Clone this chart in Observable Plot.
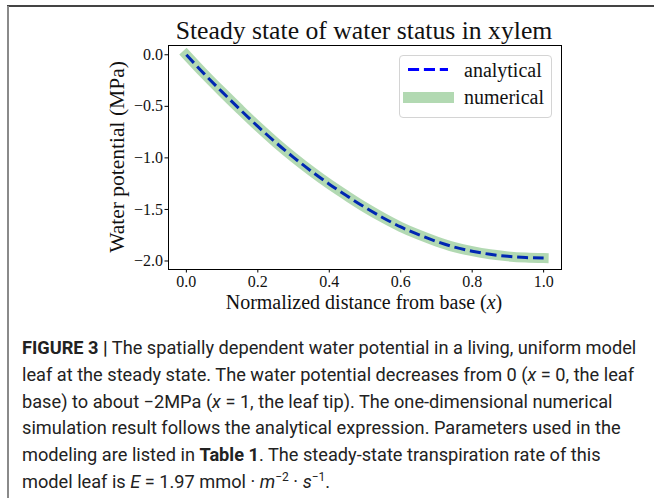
<!DOCTYPE html>
<html>
<head>
<meta charset="utf-8">
<script src="https://cdn.jsdelivr.net/npm/d3@7"></script>
<script src="https://cdn.jsdelivr.net/npm/@observablehq/plot@0.6"></script>
<style>
  html, body { margin: 0; padding: 0; background: #fff; }
  #wrap { position: relative; width: 654px; height: 498px; overflow: hidden; }
  #frameL { position: absolute; left: 7px; top: 6px; width: 2px; height: 492px; background: #8a8a8a; }
  #frameT { position: absolute; left: 7px; top: 5px; width: 647px; height: 2px; background: #444; }
  #chart { position: absolute; left: 0; top: 0; }
  #chart svg text { font-size: 16px !important; font-family: "Liberation Serif", serif !important; fill: #111; }
  .serif { font-family: "Liberation Serif", serif; color: #111; }
  #title { position: absolute; left: 114px; width: 500px; top: 16px; text-align: center; font-size: 25.7px; white-space: nowrap; }
  #xlabel { position: absolute; left: 114px; width: 500px; top: 291px; text-align: center; font-size: 20px; white-space: nowrap; }
  #ylabel { position: absolute; left: 117px; top: 157px; font-size: 21.5px; white-space: nowrap; transform: translate(-50%, -50%) rotate(-90deg); }
  #legend { position: absolute; left: 399px; top: 55px; width: 151px; height: 61px; border: 1px solid #d4d4d4; border-radius: 4px; background: rgba(255,255,255,0.8); }
  #legend svg { position: absolute; left: 0; top: 0; }
  .lt { position: absolute; left: 64px; font-size: 20px; white-space: nowrap; }
  #caption { position: absolute; left: 22px; top: 335px; width: 630px; font-family: Roboto, "Liberation Sans", sans-serif; font-size: 18.2px; line-height: 26.8px; color: #222; white-space: nowrap; }
  #caption b { font-weight: 700; }
</style>
</head>
<body>
<div id="wrap">
  <div id="frameT"></div>
  <div id="frameL"></div>
  <div id="chart"></div>
  <div id="title" class="serif">Steady state of water status in xylem</div>
  <div id="xlabel" class="serif">Normalized distance from base (<i>x</i>)</div>
  <div id="ylabel" class="serif">Water potential (MPa)</div>
  <div id="legend" class="serif">
    <svg width="151" height="61">
      <line x1="8" x2="48" y1="13.5" y2="13.5" stroke="#0000ff" stroke-width="3" stroke-dasharray="11.1,4.8"></line>
      <rect x="3" y="36" width="51" height="11" fill="#008000" fill-opacity="0.3"></rect>
    </svg>
    <div class="lt" style="top:3px">analytical</div>
    <div class="lt" style="top:30px">numerical</div>
  </div>
  <div id="caption">
    <b>FIGURE 3 |</b> The spatially dependent water potential in a living, uniform model<br>
    leaf at the steady state. The water potential decreases from 0 (<i>x</i> = 0, the leaf<br>
    base) to about −2MPa (<i>x</i> = 1, the leaf tip). The one-dimensional numerical<br>
    simulation result follows the analytical expression. Parameters used in the<br>
    modeling are listed in <b>Table 1</b>. The steady-state transpiration rate of this<br>
    model leaf is <i>E</i> = 1.97 mmol · <i>m</i><sup style="font-size:12px;line-height:0">−2</sup> · <i>s</i><sup style="font-size:12px;line-height:0">−1</sup>.
  </div>
</div>
<script>
// Normalized distance from base (x)
const xPos = [0, 0.05, 0.1, 0.15, 0.2, 0.25, 0.3, 0.35, 0.4, 0.45, 0.5, 0.55, 0.6, 0.65, 0.7, 0.75, 0.8, 0.85, 0.9, 0.95, 1.0];
// Water potential (MPa), analytical expression
const analytical = [0, -0.185, -0.36, -0.53, -0.695, -0.85, -0.995, -1.13, -1.255, -1.37, -1.48, -1.58, -1.67, -1.745, -1.81, -1.865, -1.905, -1.935, -1.955, -1.967, -1.972];
// Water potential (MPa), numerical simulation
const numerical = [0, -0.185, -0.36, -0.53, -0.695, -0.85, -0.995, -1.13, -1.255, -1.37, -1.48, -1.58, -1.67, -1.745, -1.81, -1.865, -1.905, -1.935, -1.955, -1.967, -1.972];
const xTicks = [0, 0.2, 0.4, 0.6, 0.8, 1.0];
const yTicks = [0, -0.5, -1.0, -1.5, -2.0];

const data = xPos.map((x, i) => ({x, a: analytical[i], n: numerical[i]}));
const fmtY = d => (d < 0 ? "\u2212" : "") + Math.abs(d).toFixed(1);

const chart = Plot.plot({
  width: 654,
  height: 320,
  marginLeft: 168,
  marginRight: 93,
  marginTop: 45,
  marginBottom: 51,
  style: {fontFamily: "Liberation Serif, serif", fontSize: "16px", background: "transparent", color: "#111"},
  x: {domain: [-0.05, 1.05]},
  y: {domain: [-2.0825, 0.09]},
  marks: [
    Plot.line(data, {x: "x", y: "a", stroke: "#0000ff", strokeWidth: 3, strokeDasharray: "11.1,4.8", strokeLinecap: "butt", curve: "catmull-rom"}),
    Plot.line(data, {x: "x", y: "n", stroke: "#008000", strokeOpacity: 0.3, strokeWidth: 10, strokeLinecap: "square", curve: "catmull-rom"}),
    Plot.frame({stroke: "#000", strokeWidth: 1}),
    Plot.axisX({ticks: xTicks, tickFormat: d => d.toFixed(1), tickSize: 3.5, tickPadding: 3, fontSize: 16, label: null, stroke: "#000"}),
    Plot.axisY({ticks: yTicks, tickFormat: fmtY, tickSize: 3.5, tickPadding: 2, fontSize: 16, label: null, stroke: "#000"})
  ]
});
document.getElementById("chart").appendChild(chart);
</script>
</body>
</html>
